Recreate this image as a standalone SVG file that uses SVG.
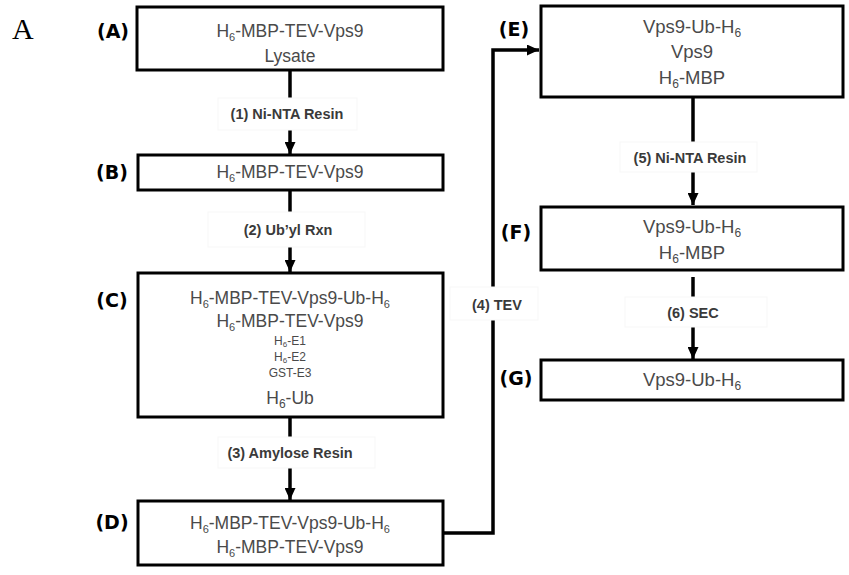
<svg xmlns="http://www.w3.org/2000/svg" width="849" height="575" viewBox="0 0 849 575">
<style>
.box{fill:#fff;stroke:#000;stroke-width:3}
.t{font-family:"Liberation Sans",Arial,sans-serif;font-size:17.5px;fill:#4a4a4a;text-anchor:middle}
.tr{font-family:"Liberation Sans",Arial,sans-serif;font-size:18.5px;fill:#4a4a4a;text-anchor:middle}
.ts{font-family:"Liberation Sans",Arial,sans-serif;font-size:12px;fill:#4a4a4a;text-anchor:middle}
.lab{font-family:"DejaVu Sans",sans-serif;font-weight:bold;font-size:19px;fill:#000;text-anchor:middle}
.step{font-family:"Liberation Sans",Arial,sans-serif;font-weight:bold;font-size:14.5px;fill:#3a3a3a;text-anchor:middle}
.sbg{fill:#fff;stroke:#f7f7f7;stroke-width:1}
.con{fill:none;stroke:#000;stroke-width:3.5}
</style>
<defs>
<marker id="ah" markerUnits="userSpaceOnUse" markerWidth="13" markerHeight="11" refX="12" refY="5.5" orient="auto">
<path d="M0,0 L12,5.5 L0,11 Z" fill="#000"/>
</marker>
</defs>
<text x="12" y="39" font-family="Liberation Serif,serif" font-size="30" fill="#000">A</text>

<g id="connectors">
<line class="con" x1="290" y1="70" x2="290" y2="154" marker-end="url(#ah)"/>
<line class="con" x1="290" y1="190" x2="290" y2="272" marker-end="url(#ah)"/>
<line class="con" x1="290" y1="417" x2="290" y2="500" marker-end="url(#ah)"/>
<path class="con" d="M443,533 H493 V50 H539" marker-end="url(#ah)"/>
<line class="con" x1="693" y1="97" x2="693" y2="205" marker-end="url(#ah)"/>
<line class="con" x1="693" y1="277" x2="693" y2="359" marker-end="url(#ah)"/>
<rect class="sbg" x="218" y="98" width="139" height="32"/>
<text class="step" x="287" y="119">(1) Ni-NTA Resin</text>
<rect class="sbg" x="208" y="212" width="157" height="35"/>
<text class="step" x="288" y="235">(2) Ub’yl Rxn</text>
<rect class="sbg" x="218" y="437" width="157" height="31"/>
<text class="step" x="290" y="458">(3) Amylose Resin</text>
<rect class="sbg" x="450" y="287" width="88" height="33"/>
<text class="step" x="497" y="310">(4) TEV</text>
<rect class="sbg" x="620" y="142" width="137" height="30"/>
<text class="step" x="690" y="163">(5) Ni-NTA Resin</text>
<rect class="sbg" x="625" y="297" width="142" height="30"/>
<text class="step" x="693" y="318">(6) SEC</text>
</g>

<g id="nodeA">
<rect class="box" x="137" y="7" width="306" height="63"/>
<text class="lab" x="113" y="38">(A)</text>
<text class="t" x="290" y="37">H<tspan font-size="11" dy="4">6</tspan><tspan dy="-4">-MBP-TEV-Vps9</tspan></text>
<text class="t" x="290" y="62">Lysate</text>
</g>

<g id="nodeB">
<rect class="box" x="138" y="155" width="305" height="35"/>
<text class="lab" x="112" y="179">(B)</text>
<text class="t" x="290" y="178">H<tspan font-size="11" dy="4">6</tspan><tspan dy="-4">-MBP-TEV-Vps9</tspan></text>
</g>

<g id="nodeC">
<rect class="box" x="138" y="273" width="305" height="144"/>
<text class="lab" x="112" y="307">(C)</text>
<text class="t" x="290" y="304">H<tspan font-size="11" dy="4">6</tspan><tspan dy="-4">-MBP-TEV-Vps9-Ub-H</tspan><tspan font-size="11" dy="4">6</tspan></text>
<text class="t" x="290" y="327">H<tspan font-size="11" dy="4">6</tspan><tspan dy="-4">-MBP-TEV-Vps9</tspan></text>
<text class="ts" x="290" y="345">H<tspan font-size="8" dy="2">6</tspan><tspan dy="-2">-E1</tspan></text>
<text class="ts" x="290" y="361">H<tspan font-size="8" dy="2">6</tspan><tspan dy="-2">-E2</tspan></text>
<text class="ts" x="290" y="377">GST-E3</text>
<text class="t" x="290" y="404" font-size="19">H<tspan font-size="12" dy="4">6</tspan><tspan dy="-4">-Ub</tspan></text>
</g>

<g id="nodeD">
<rect class="box" x="138" y="501" width="305" height="64"/>
<text class="lab" x="112" y="529">(D)</text>
<text class="t" x="290" y="529">H<tspan font-size="11" dy="4">6</tspan><tspan dy="-4">-MBP-TEV-Vps9-Ub-H</tspan><tspan font-size="11" dy="4">6</tspan></text>
<text class="t" x="290" y="553">H<tspan font-size="11" dy="4">6</tspan><tspan dy="-4">-MBP-TEV-Vps9</tspan></text>
</g>

<g id="nodeE">
<rect class="box" x="541" y="6" width="302" height="91"/>
<text class="lab" x="514" y="36">(E)</text>
<text class="tr" x="692" y="33">Vps9-Ub-H<tspan font-size="12" dy="4">6</tspan></text>
<text class="tr" x="692" y="58">Vps9</text>
<text class="tr" x="692" y="84">H<tspan font-size="12" dy="4">6</tspan><tspan dy="-4">-MBP</tspan></text>
</g>

<g id="nodeF">
<rect class="box" x="541" y="207" width="302" height="63"/>
<text class="lab" x="516" y="239">(F)</text>
<text class="tr" x="692" y="233">Vps9-Ub-H<tspan font-size="12" dy="4">6</tspan></text>
<text class="tr" x="692" y="259">H<tspan font-size="12" dy="4">6</tspan><tspan dy="-4">-MBP</tspan></text>
</g>

<g id="nodeG">
<rect class="box" x="541" y="360" width="302" height="40"/>
<text class="lab" x="516" y="385">(G)</text>
<text class="tr" x="692" y="386">Vps9-Ub-H<tspan font-size="12" dy="4">6</tspan></text>
</g>
</svg>
